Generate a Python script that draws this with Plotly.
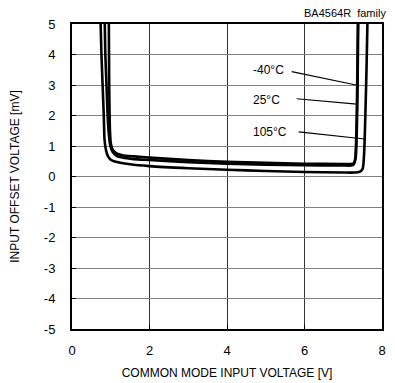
import plotly.graph_objects as go

# Data
x_m40 = [0.95, 0.955, 0.96, 0.97, 0.98, 1.0, 1.05, 1.15, 1.3, 1.6, 2, 3, 4, 5, 6, 7, 7.2, 7.28, 7.32, 7.35, 7.37, 7.39]
y_m40 = [5.4, 4.0, 3.0, 2.0, 1.5, 1.1, 0.88, 0.76, 0.7, 0.66, 0.62, 0.54, 0.48, 0.45, 0.42, 0.41, 0.41, 0.44, 0.6, 1.5, 3.0, 5.4]

x_25 = [0.84, 0.86, 0.89, 0.92, 0.95, 0.99, 1.05, 1.15, 1.3, 1.6, 2, 3, 4, 5, 6, 7, 7.2, 7.27, 7.31, 7.34, 7.36, 7.38]
y_25 = [5.4, 4.0, 3.0, 2.0, 1.4, 1.0, 0.8, 0.68, 0.62, 0.57, 0.54, 0.47, 0.42, 0.39, 0.37, 0.36, 0.36, 0.4, 0.6, 1.5, 3.0, 5.4]

x_105 = [0.73, 0.76, 0.79, 0.82, 0.84, 0.88, 0.93, 1.0, 1.1, 1.5, 2, 3, 4, 5, 6, 7, 7.3, 7.42, 7.5, 7.54, 7.57, 7.6, 7.63]
y_105 = [5.4, 4.0, 3.0, 2.0, 1.2, 0.85, 0.66, 0.55, 0.49, 0.4, 0.34, 0.27, 0.22, 0.18, 0.15, 0.13, 0.13, 0.15, 0.25, 0.8, 2.0, 3.5, 5.4]

series = [("-40°C", x_m40, y_m40), ("25°C", x_25, y_25), ("105°C", x_105, y_105)]

# Label text positions and pointer line ends (data units)
labels = ["-40°C", "25°C", "105°C"]
label_x = [5.06, 5.03, 5.11]
label_y = [3.49, 2.51, 1.47]
ptr_x0 = [5.67, 5.8, 5.85]
ptr_y0 = [3.44, 2.55, 1.46]
ptr_x1 = [7.33, 7.35, 7.55]
ptr_y1 = [3.0, 2.37, 1.23]

x_ticks = [0, 2, 4, 6, 8]
x_tick_text = ["0", "2", "4", "6", "8"]
y_ticks = [-5, -4, -3, -2, -1, 0, 1, 2, 3, 4, 5]
y_tick_text = ["-5", "-4", "-3", "-2", "-1", "0", "1", "2", "3", "4", "5"]

FONT = "Liberation Sans, Arial, sans-serif"

fig = go.Figure()
for name, xs, ys in series:
    fig.add_trace(go.Scatter(x=xs, y=ys, mode="lines", name=name,
                             line=dict(color="black", width=2.6, shape="spline", smoothing=0.6),
                             showlegend=False))

for i in range(3):
    fig.add_trace(go.Scatter(x=[ptr_x0[i], ptr_x1[i]], y=[ptr_y0[i], ptr_y1[i]], mode="lines",
                             line=dict(color="black", width=1.2), showlegend=False,
                             hoverinfo="skip"))
    fig.add_annotation(x=label_x[i], y=label_y[i], text=labels[i], showarrow=False,
                       font=dict(family=FONT, size=12, color="black"))

fig.add_annotation(x=1, y=1, xref="paper", yref="paper", xanchor="right", yanchor="bottom",
                   yshift=3, xshift=6, text="BA4564R  family", showarrow=False,
                   font=dict(family=FONT, size=11, color="black"))

# page body has an 8px margin: figure sized to fill the rest of the window
fig.update_layout(
    width=387, height=375,
    margin=dict(l=64, r=13, t=16, b=54, autoexpand=False),
    plot_bgcolor="white", paper_bgcolor="white",
    font=dict(family=FONT, size=12, color="black"),
)
fig.update_xaxes(range=[0, 8], tickvals=x_ticks, ticktext=x_tick_text, automargin=False,
                 showline=True, linecolor="black", linewidth=2,
                 mirror=True, showgrid=True, gridcolor="#333333", gridwidth=1,
                 ticks="inside", ticklen=4, tickcolor="black", zeroline=False,
                 ticklabelstandoff=8, tickfont=dict(size=13),
                 title=dict(text="COMMON MODE INPUT VOLTAGE [V]", standoff=12,
                            font=dict(family=FONT, size=12)))
fig.update_yaxes(range=[-5, 5], tickvals=y_ticks, ticktext=y_tick_text, automargin=False,
                 showline=True, linecolor="black", linewidth=2,
                 mirror=True, showgrid=True, gridcolor="#808080", gridwidth=1,
                 ticks="inside", ticklen=4, tickcolor="black", zeroline=False,
                 ticklabelstandoff=12, tickfont=dict(size=13),
                 title=dict(text="INPUT OFFSET VOLTAGE [mV]", standoff=22,
                            font=dict(family=FONT, size=12)))

fig.write_html("out.html")
